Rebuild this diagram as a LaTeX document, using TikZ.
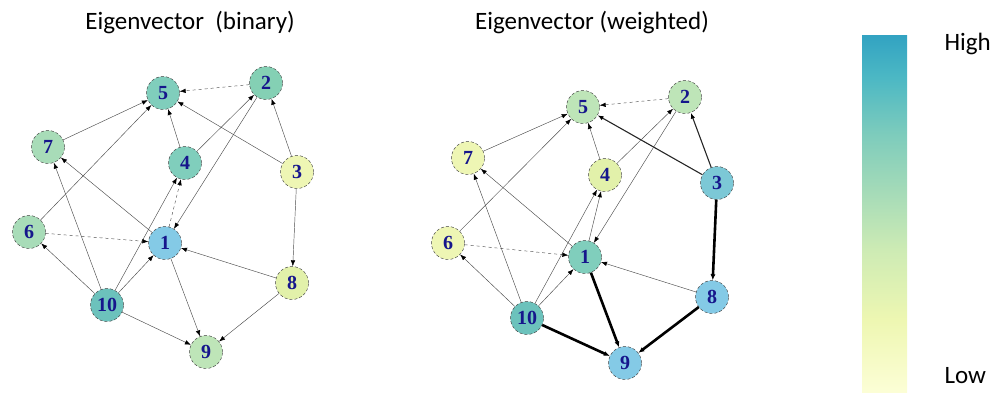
\documentclass[tikz,border=0pt]{standalone}
\usepackage{fontspec}
\setmainfont{Liberation Serif}
\newfontfamily\calib{Carlito}
\usetikzlibrary{arrows.meta}
\definecolor{cTeal}{RGB}{128,206,188}
\definecolor{cTealG}{RGB}{132,208,180}
\definecolor{cDTeal}{RGB}{108,194,188}
\definecolor{cBlue}{RGB}{132,202,230}
\definecolor{cBlueT}{RGB}{124,200,214}
\definecolor{cGreen}{RGB}{168,220,184}
\definecolor{cLGreen}{RGB}{190,229,184}
\definecolor{cYel}{RGB}{238,246,180}
\definecolor{cYelG}{RGB}{226,241,170}
\definecolor{cText}{RGB}{22,22,140}
\definecolor{s0}{RGB}{252,254,214}
\definecolor{s1}{RGB}{238,247,178}
\definecolor{s2}{RGB}{205,235,180}
\definecolor{s3}{RGB}{165,219,184}
\definecolor{s4}{RGB}{126,204,188}
\definecolor{s5}{RGB}{76,184,196}
\definecolor{s6}{RGB}{50,163,194}
\pgfdeclareverticalshading{ylgnbu}{100bp}{color(0bp)=(s0); color(25bp)=(s0); color(35bp)=(s1); color(45bp)=(s2); color(53bp)=(s3); color(61bp)=(s4); color(69bp)=(s5); color(75bp)=(s6); color(100bp)=(s6)}
\tikzset{
  vtx/.style={circle, minimum size=33pt, inner sep=0pt, draw=black!75, densely dashed, line width=0.45pt,
    font=\fontsize{20}{20}\selectfont\bfseries, text=cText},
  edg/.style={draw=black!70, line width=0.45pt, -{Latex[length=6pt,width=4.5pt,color=black]}},
  edd/.style={edg, dashed},
  edm/.style={draw=black!85, line width=1.1pt, -{Latex[length=6pt,width=4.5pt,color=black]}},
  edt/.style={draw=black, line width=2.6pt, -{Latex[length=6pt,width=5pt]}},
  ttl/.style={font=\calib\fontsize{25}{28}\selectfont, text=black},
}
\begin{document}
\begin{tikzpicture}[x=1pt,y=-1pt]
\useasboundingbox (0,0) rectangle (990,392);
% titles
\node[ttl] (t1) at (190,22) {Eigenvector\ \ (binary)};
\node[ttl] (t2) at (592,22) {Eigenvector (weighted)};
% left graph
\node[vtx, fill=cTeal]  (a5)  at (163,93)  {5};
\node[vtx, fill=cTealG] (a2)  at (266,83)  {2};
\node[vtx, fill=cGreen] (a7)  at (48,147)  {7};
\node[vtx, fill=cTeal]  (a4)  at (185,163) {4};
\node[vtx, fill=cYel]   (a3)  at (297,172) {3};
\node[vtx, fill=cGreen] (a6)  at (29,232)  {6};
\node[vtx, fill=cBlue]  (a1)  at (165,243) {1};
\node[vtx, fill=cYelG]  (a8)  at (292,283) {8};
\node[vtx, fill=cDTeal] (a10) at (107,305) {10};
\node[vtx, fill=cLGreen](a9)  at (206,352) {9};
\draw[edd] (a2) -- (a5);
\draw[edg] (a7) -- (a5);
\draw[edg] (a6) -- (a5);
\draw[edg] (a4) -- (a5);
\draw[edg] (a3) -- (a5);
\draw[edg] (a4) -- (a2);
\draw[edg] (a2) -- (a1);
\draw[edg] (a3) -- (a2);
\draw[edg] (a3) -- (a8);
\draw[edg] (a1) -- (a7);
\draw[edg] (a10) -- (a7);
\draw[edg] (a10) -- (a4);
\draw[edd] (a1) -- (a4);
\draw[edd] (a6) -- (a1);
\draw[edg] (a10) -- (a6);
\draw[edg] (a10) -- (a1);
\draw[edg] (a8) -- (a1);
\draw[edg] (a1) -- (a9);
\draw[edg] (a10) -- (a9);
\draw[edg] (a8) -- (a9);
% right graph
\node[vtx, fill=cLGreen](b5)  at (583,107) {5};
\node[vtx, fill=cLGreen](b2)  at (685,97)  {2};
\node[vtx, fill=cYel]   (b7)  at (468,158) {7};
\node[vtx, fill=cYelG]  (b4)  at (605,175) {4};
\node[vtx, fill=cBlueT] (b3)  at (717,183) {3};
\node[vtx, fill=cYel]   (b6)  at (448,243) {6};
\node[vtx, fill=cTeal]  (b1)  at (585,257) {1};
\node[vtx, fill=cBlue]  (b8)  at (712,297) {8};
\node[vtx, fill=cDTeal] (b10) at (527,318) {10};
\node[vtx, fill=cBlue]  (b9)  at (625,363) {9};
\draw[edd] (b2) -- (b5);
\draw[edg] (b7) -- (b5);
\draw[edg] (b6) -- (b5);
\draw[edg] (b4) -- (b5);
\draw[edm] (b3) -- (b5);
\draw[edg] (b4) -- (b2);
\draw[edg] (b2) -- (b1);
\draw[edm] (b3) -- (b2);
\draw[edt] (b3) -- (b8);
\draw[edg] (b1) -- (b7);
\draw[edg] (b10) -- (b7);
\draw[edg] (b10) -- (b4);
\draw[edg] (b1) -- (b4);
\draw[edd] (b6) -- (b1);
\draw[edg] (b10) -- (b6);
\draw[edg] (b10) -- (b1);
\draw[edg] (b8) -- (b1);
\draw[edt] (b1) -- (b9);
\draw[edt] (b10) -- (b9);
\draw[edt] (b8) -- (b9);
% colour bar
\shade[shading=ylgnbu] (862,35) rectangle (907,392);
\node[ttl, anchor=west] (hi) at (941,44) {High};
\node[ttl, anchor=west] (lo) at (941,376) {Low};
\end{tikzpicture}
\end{document}
